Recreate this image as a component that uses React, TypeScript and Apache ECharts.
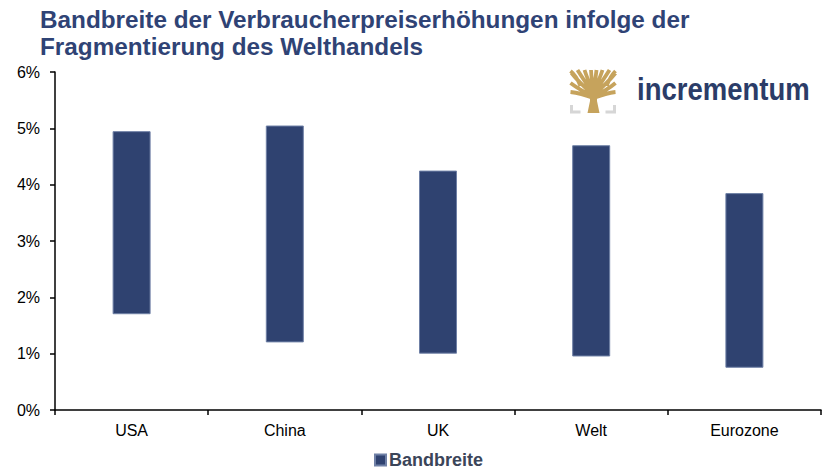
import React, { useEffect, useRef } from "react";
import * as echarts from "echarts";

const categories = ["USA", "China", "UK", "Welt", "Eurozone"];
const lowValues = [1.7, 1.2, 1.0, 0.95, 0.75];
const highValues = [4.95, 5.05, 4.25, 4.7, 3.85];
const yTicks = [0, 1, 2, 3, 4, 5, 6];
const seriesName = "Bandbreite";
const titleLines = [
  "Bandbreite der Verbraucherpreiserhöhungen infolge der",
  "Fragmentierung des Welthandels",
];
const logoText = "incrementum";

const FONT = "'Liberation Sans', Arial, sans-serif";
const NAVY = "#2f4270";
const GOLD = "#c6a35c";

let registered = false;
function registerShapes() {
  if (registered) return;
  registered = true;
  const branches = [
    "M23 28 Q10 23 0 22",
    "M23 27 Q8 19 0 13",
    "M23 25 Q8 12 1 3",
    "M23 24 Q12 8 7 0",
    "M23 23 Q17 9 14 0",
    "M23 22 Q21 9 20.5 0",
    "M23 22 Q25 9 26 0",
    "M23 23 Q29 9 32 0",
    "M23 24 Q34 8 39 0",
    "M23 25 Q38 12 45 3",
    "M23 27 Q38 19 45 13",
    "M23 28 Q36 23 45 22",
    "M10 16 Q6 6 0 1",
    "M36 16 Q40 6 45 1",
  ].join(" ");
  echarts.graphic.registerShape(
    "treeBranches",
    echarts.graphic.extendPath(branches, {}) as any
  );
  echarts.graphic.registerShape(
    "treeTrunk",
    echarts.graphic.extendPath("M17 43 L29 43 L26.5 31 L26.5 21 L19.5 21 L19.5 31 Z", {}) as any
  );
}

export default function App() {
  const ref = useRef<HTMLDivElement>(null);
  useEffect(() => {
    if (!ref.current) return;
    registerShapes();
    const chart = echarts.init(ref.current, null, { renderer: "svg" });
    const diffs = highValues.map((h, i) => +(h - lowValues[i]).toFixed(3));
    chart.setOption({
      animation: false,
      backgroundColor: "#ffffff",
      textStyle: { fontFamily: FONT },
      grid: { left: 55, right: 1, top: 72, bottom: 60, containLabel: false },
      legend: {
        data: [seriesName],
        top: 451,
        left: 374,
        padding: 0,
        icon: "rect",
        itemWidth: 11,
        itemHeight: 11,
        itemGap: 4,
        textStyle: {
          fontFamily: FONT,
          fontWeight: "bold",
          fontSize: 18,
          lineHeight: 18,
          color: "#3b4559",
          padding: [0, 0, 0, -2],
        },
      },
      xAxis: {
        type: "category",
        data: categories,
        axisLine: { lineStyle: { color: "#000", width: 1.5 } },
        axisTick: { show: true, length: 5, lineStyle: { color: "#000", width: 1.5 } },
        axisLabel: { color: "#000", fontSize: 16, margin: 12, fontFamily: FONT },
        splitLine: { show: false },
      },
      yAxis: {
        type: "value",
        min: yTicks[0],
        max: yTicks[yTicks.length - 1],
        interval: 1,
        axisLine: { show: true, lineStyle: { color: "#000", width: 1.5 } },
        axisTick: { show: true, length: 5, lineStyle: { color: "#000", width: 1.5 } },
        axisLabel: {
          color: "#000",
          fontSize: 16,
          margin: 15,
          fontFamily: FONT,
          formatter: (v: number) => `${v}%`,
        },
        splitLine: { show: false },
      },
      series: [
        {
          name: "base",
          type: "bar",
          stack: "range",
          data: lowValues,
          barWidth: 38,
          itemStyle: { color: "transparent" },
          silent: true,
        },
        {
          name: seriesName,
          type: "bar",
          stack: "range",
          data: diffs,
          barWidth: 38,
          itemStyle: { color: NAVY, borderColor: "#6f80a6", borderWidth: 1 },
        },
      ],
      graphic: [
        {
          type: "text",
          left: 40,
          top: 6,
          style: {
            text: titleLines.join("\n"),
            font: `bold 24.3px ${FONT}`,
            fill: "#2f4375",
            lineHeight: 27,
          },
        },
        {
          type: "group",
          x: 570.5,
          y: 70,
          children: [
            {
              type: "treeBranches",
              style: { stroke: GOLD, lineWidth: 3.8, fill: null, lineCap: "butt" },
            },
            {
              type: "treeTrunk",
              style: { fill: GOLD },
            },
            {
              type: "polyline",
              shape: { points: [[1, 35], [1, 42], [10, 42]] },
              style: { stroke: "#d6d6d6", lineWidth: 3, fill: null },
            },
            {
              type: "polyline",
              shape: { points: [[44, 35], [44, 42], [35, 42]] },
              style: { stroke: "#d6d6d6", lineWidth: 3, fill: null },
            },
          ],
        },
        {
          type: "text",
          x: 637,
          y: 105,
          scaleX: 0.86,
          style: {
            text: logoText,
            font: `bold 32px ${FONT}`,
            fill: "#2b3c68",
            textVerticalAlign: "bottom",
            verticalAlign: "alphabetic",
          },
        },
      ],
    });
    return () => chart.dispose();
  }, []);
  return <div ref={ref} style={{ width: 822, height: 470, position: "absolute", left: 0, top: 0 }} />;
}
